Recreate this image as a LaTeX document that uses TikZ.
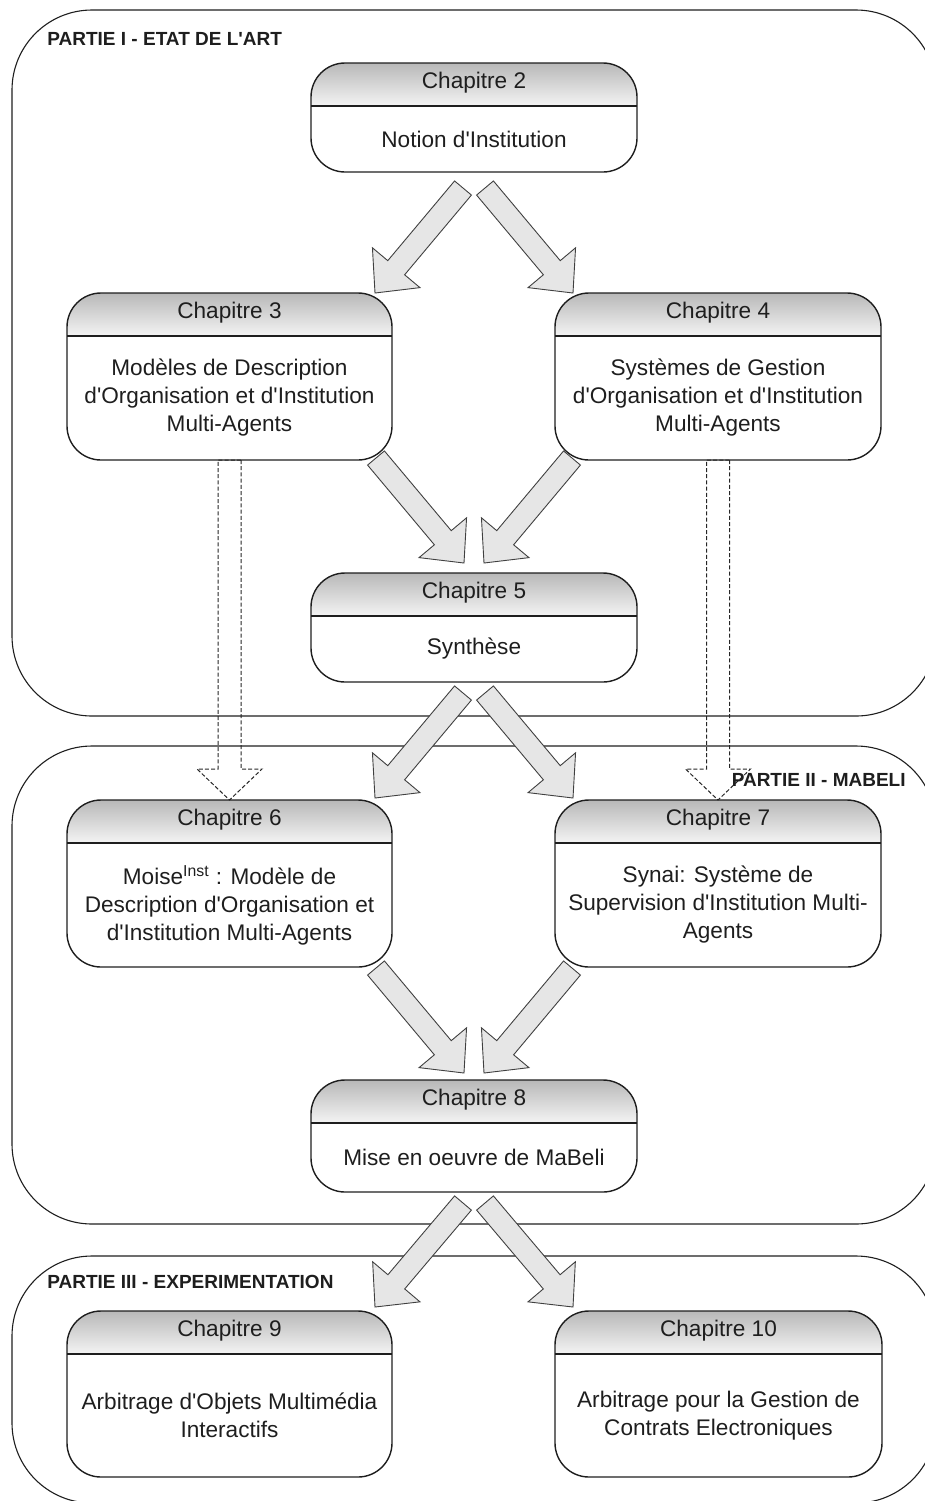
\documentclass[tikz,border=0pt]{standalone}
\usepackage{fontspec}
\newfontfamily\diagfont{Liberation Sans}
\usetikzlibrary{calc}

\definecolor{ink}{HTML}{1E1E1E}
\definecolor{arrowfill}{HTML}{E6E6E6}
\definecolor{hdtop}{HTML}{B8B8B8}
\definecolor{hdbot}{HTML}{F4F4F4}

\tikzset{
  region/.style={draw=ink, line width=0.55pt, rounded corners=40pt},
  boxframe/.style={rectangle, inner sep=0pt, outer sep=0pt},
  boxline/.style={draw=ink, line width=0.7pt},
  chaptitle/.style={font=\diagfont\fontsize{11.3}{14}\selectfont, text=ink, inner sep=0pt, anchor=base},
  chapbody/.style={font=\diagfont\fontsize{11.3}{14}\selectfont, text=ink, align=center, inner sep=0pt},
  parttitle/.style={font=\diagfont\bfseries\fontsize{9.5}{11}\selectfont, text=ink, inner sep=0pt},
  blockarrow/.style={fill=arrowfill, draw=black!75, line width=0.45pt, line join=miter},
  hollowarrow/.style={draw=black!85, line width=0.5pt, dash pattern=on 2pt off 1.1pt},
}

% chapter box: name, x1, y1, x2, y2, title, body
\newcommand\chapbox[7]{%
  \node[boxframe, minimum width={(#4-#2)*0.5pt}, minimum height={(#5-#3)*0.5pt}]
    (#1) at ({(#2+#4)/2},{(#3+#5)/2}) {};
  \begin{scope}
    \clip[rounded corners=17pt] (#1.south west) rectangle (#1.north east);
    \shade[top color=hdtop, bottom color=hdbot]
      (#1.north west) rectangle ($(#1.north east)+(0,43)$);
  \end{scope}
  \draw[boxline] ($(#1.north west)+(0,43)$) -- ($(#1.north east)+(0,43)$);
  \draw[boxline, rounded corners=17pt] (#1.south west) rectangle (#1.north east);
  \node[chaptitle] (#1-title) at ($(#1.north)+(0,25.5)$) {#6};
  \node[chapbody] (#1-body) at ($(#1.center)+(0,21.5)$) {#7};
}

% wide arrow outline: style, tail, tip, shaft half-width, head half-width, head length
\newcommand\arrowpoly[6]{%
  \coordinate (ap-h) at ($(#3)!#6!(#2)$);
  \draw[#1] ($(#2)!#4!90:(#3)$) -- ($(ap-h)!#4!90:(#3)$) -- ($(ap-h)!#5!90:(#3)$)
    -- (#3) -- ($(ap-h)!#5!-90:(#3)$) -- ($(ap-h)!#4!-90:(#3)$)
    -- ($(#2)!#4!-90:(#3)$) -- cycle;
}

\begin{document}
\begin{tikzpicture}[x=0.5pt, y=-0.5pt]
  \useasboundingbox (0,0) rectangle (925,1501);
  \clip (0,0) rectangle (925,1501);

  % the three parts
  \draw[region] (12,10) rectangle (936,716);
  \draw[region] (12,746) rectangle (936,1224);
  \draw[region] (12,1256) rectangle (936,1503);

  % chapters
  \chapbox{c2}{311}{63}{637}{172}{Chapitre 2}{Notion d'Institution}
  \chapbox{c3}{67}{293}{392}{460}{Chapitre 3}{Modèles de Description\\d'Organisation et d'Institution\\Multi-Agents}
  \chapbox{c4}{555}{293}{881}{460}{Chapitre 4}{Systèmes de Gestion\\d'Organisation et d'Institution\\Multi-Agents}
  \chapbox{c5}{311}{573}{637}{682}{Chapitre 5}{Synthèse}
  \chapbox{c6}{67}{800}{392}{967}{Chapitre 6}{Moise\textsuperscript{Inst} : Modèle de\\Description d'Organisation et\\d'Institution Multi-Agents}
  \chapbox{c7}{555}{800}{881}{967}{Chapitre 7}{Synai: Système de\\Supervision d'Institution Multi-\\Agents}
  \chapbox{c8}{311}{1080}{637}{1192}{Chapitre 8}{Mise en oeuvre de MaBeli}
  \chapbox{c9}{67}{1311}{392}{1477}{Chapitre 9}{Arbitrage d'Objets Multimédia\\Interactifs}
  \chapbox{c10}{555}{1311}{882}{1477}{Chapitre 10}{Arbitrage pour la Gestion de\\Contrats Electroniques}

  % part titles
  \node[parttitle, anchor=base west] (p1) at (47,45) {PARTIE I - ETAT DE L'ART};
  \node[parttitle, anchor=base west] (p3) at (47,1288) {PARTIE III - EXPERIMENTATION};

  % dashed links from the state of the art to the contributions
  \arrowpoly{hollowarrow}{c3.south}{c6.north}{5.75pt}{16.25pt}{15.5pt}
  \arrowpoly{hollowarrow}{c4.south}{c7.north}{5.75pt}{16.25pt}{15.5pt}

  \node[parttitle, anchor=base east] (p2) at (906,786) {PARTIE II - MABELI};

  % arrow ends
  \coordinate (t1) at ($(c2.south)+(-11,16)$);
  \coordinate (h1) at ($(c3.north east)+(-17,0)$);
  \coordinate (t2) at ($(c2.south)+(11,16)$);
  \coordinate (h2) at ($(c4.north west)+(18,0)$);
  \coordinate (t3) at ($(c3.south east)+(-16,-2)$);
  \coordinate (h3) at ($(c5.north)+(-10,-10)$);
  \coordinate (t4) at ($(c4.south west)+(17,-2)$);
  \coordinate (h4) at ($(c5.north)+(10,-10)$);
  \coordinate (t5) at ($(c5.south)+(-11,11)$);
  \coordinate (h5) at ($(c6.north east)+(-17,-2)$);
  \coordinate (t6) at ($(c5.south)+(11,11)$);
  \coordinate (h6) at ($(c7.north west)+(18,-2)$);
  \coordinate (t7) at ($(c6.south east)+(-16,1)$);
  \coordinate (h7) at ($(c8.north)+(-10,-7)$);
  \coordinate (t8) at ($(c7.south west)+(17,1)$);
  \coordinate (h8) at ($(c8.north)+(10,-7)$);
  \coordinate (t9) at ($(c8.south)+(-11,11)$);
  \coordinate (h9) at ($(c9.north east)+(-17,-4)$);
  \coordinate (t10) at ($(c8.south)+(11,11)$);
  \coordinate (h10) at ($(c10.north west)+(18,-4)$);

  % block arrows between chapters
  \foreach \i in {1,...,10}{
    \arrowpoly{blockarrow}{t\i}{h\i}{5.5pt}{15.5pt}{16.5pt}
  }
\end{tikzpicture}
\end{document}
